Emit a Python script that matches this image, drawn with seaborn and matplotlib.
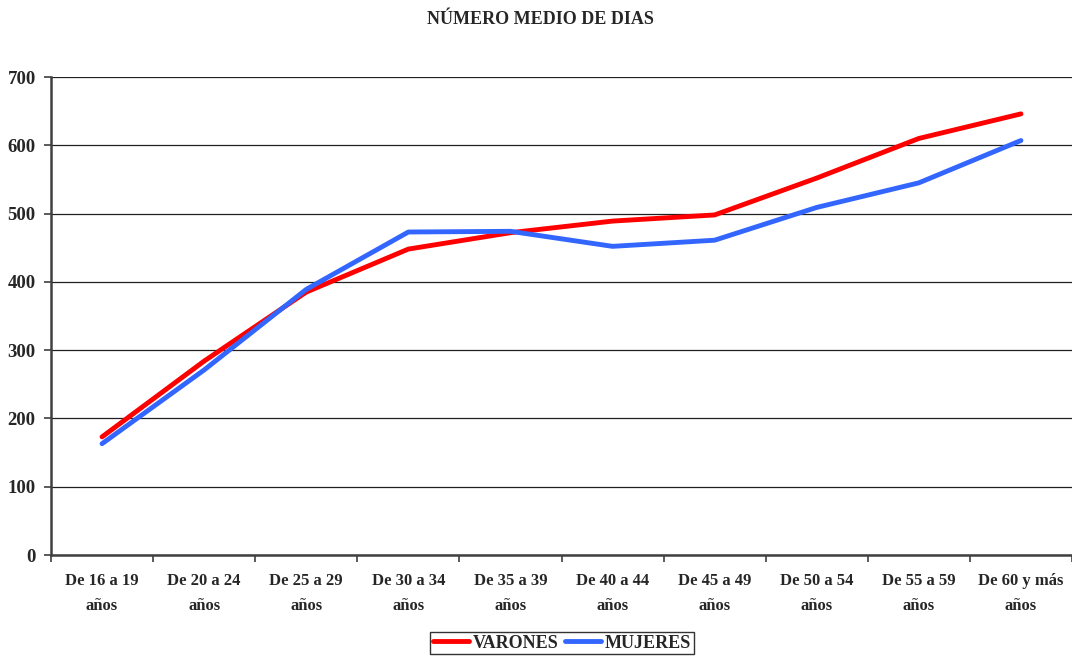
import pandas as pd
import matplotlib.pyplot as plt
import seaborn as sns

# data
grupos = ["De 16 a 19\naños", "De 20 a 24\naños", "De 25 a 29\naños", "De 30 a 34\naños",
          "De 35 a 39\naños", "De 40 a 44\naños", "De 45 a 49\naños", "De 50 a 54\naños",
          "De 55 a 59\naños", "De 60 y más\naños"]
varones = [173, 284, 385, 448, 472, 489, 498, 552, 610, 646]
mujeres = [163, 271, 389, 473, 474, 452, 461, 509, 545, 607]
series = ["VARONES", "MUJERES"]
colores = ["#FF0000", "#3366FF"]

df = pd.DataFrame({
    "grupo": list(range(len(grupos))) * 2,
    "dias": varones + mujeres,
    "sexo": [series[0]] * len(grupos) + [series[1]] * len(grupos),
})

sns.set_style("white")
plt.rcParams['font.family'] = ['Liberation Serif', 'DejaVu Serif']
plt.rcParams['font.weight'] = 'bold'

fig = plt.figure(figsize=(10.72, 6.56), dpi=100)
ax = fig.add_axes([51 / 1072, 1 - 555 / 656, 1 - 51 / 1072, (555 - 77) / 656])

sns.lineplot(data=df, x="grupo", y="dias", hue="sexo", palette=colores,
             linewidth=3.5, ax=ax, legend=False, solid_capstyle='round')

# grid and axes
ax.set_ylim(0, 700)
ax.set_xlim(-0.5, len(grupos) - 0.5)
ax.set_yticks(range(0, 701, 100))
ax.yaxis.grid(True, color="#202020", linewidth=0.9)
ax.set_axisbelow(True)
ax.set_xticks(range(len(grupos)))
ax.set_xticklabels(grupos, fontsize=12, fontweight='bold', linespacing=1.75)
ax.set_xticks([i - 0.5 for i in range(len(grupos) + 1)], minor=True)
ax.tick_params(axis='x', which='major', bottom=False, length=0, pad=13)
ax.tick_params(axis='x', which='minor', bottom=True, length=5, direction='out',
               color='#404040', width=1.2)
ax.tick_params(axis='y', left=True, length=5, direction='out', color='#404040', width=1.2,
               labelsize=13.5, pad=6)
for lab in ax.get_yticklabels():
    lab.set_fontweight('bold')
for s in ['top', 'right']:
    ax.spines[s].set_visible(False)
for s in ['left', 'bottom']:
    ax.spines[s].set_color('#404040')
    ax.spines[s].set_linewidth(1.8)
ax.set_xlabel("")
ax.set_ylabel("")

fig.text(540 / 1072, 1 - 20 / 656, "NÚMERO MEDIO DE DIAS", ha='center', va='center',
         fontsize=13, fontweight='bold')

handles = [plt.Line2D([], [], color=c, linewidth=3.5) for c in colores]
leg = fig.legend(handles, series, loc='upper center', bbox_to_anchor=(562 / 1072, 1 - 632 / 656),
                 ncol=2, frameon=True, fancybox=False, edgecolor='black', handlelength=2.0,
                 handletextpad=0.2, columnspacing=0.4, borderpad=0.15, borderaxespad=0,
                 prop={'weight': 'bold', 'size': 13})
leg.get_frame().set_linewidth(1.0)

fig.savefig("out.png", dpi=100)
